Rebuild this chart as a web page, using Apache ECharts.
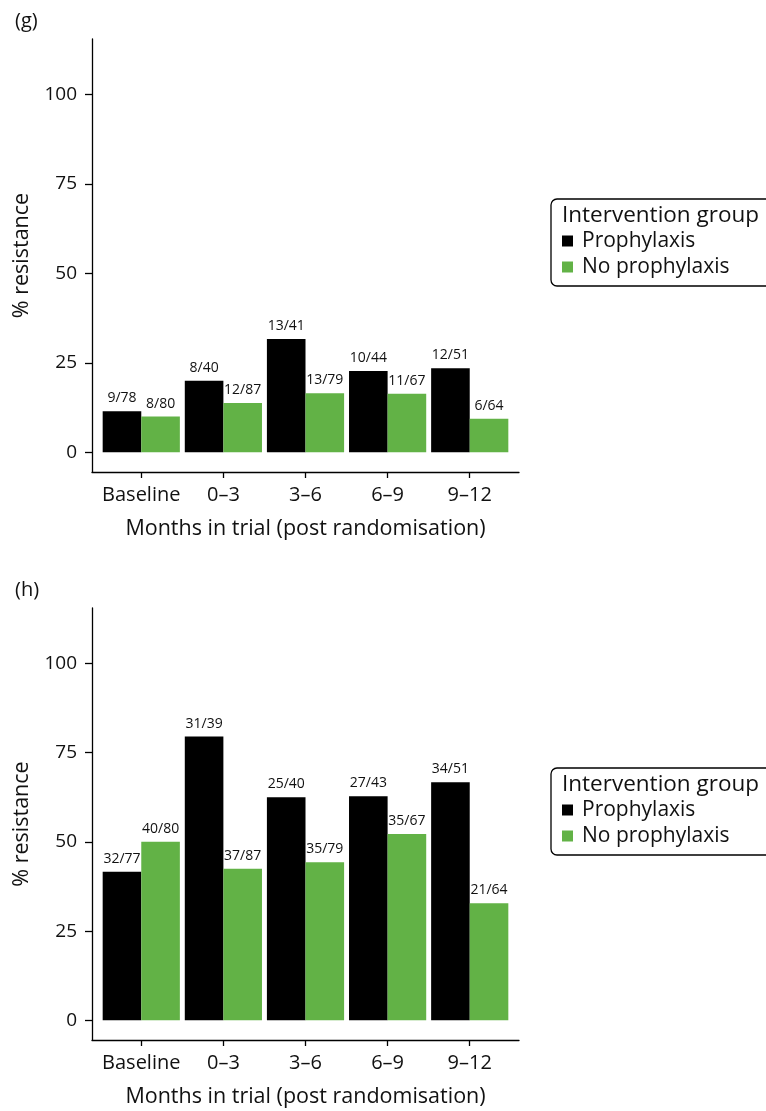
<!DOCTYPE html>
<html><head><meta charset="utf-8">
<script src="https://cdn.jsdelivr.net/npm/echarts@6/dist/echarts.min.js"></script>
<style>html,body{margin:0;padding:0;background:#fff;overflow:hidden}#c{width:766px;height:1111px}</style>
</head><body><div id="c"></div>
<script>
const categories = ['Baseline', '0\u20133', '3\u20136', '6\u20139', '9\u201312'];
const yTicks = [0, 25, 50, 75, 100];
const seriesNames = ['Prophylaxis', 'No prophylaxis'];
// panel (g)
const gProph = [11.5, 20.0, 31.7, 22.7, 23.5];
const gNoProph = [10.0, 13.8, 16.5, 16.4, 9.4];
const gProphLbl = ['9/78', '8/40', '13/41', '10/44', '12/51'];
const gNoProphLbl = ['8/80', '12/87', '13/79', '11/67', '6/64'];
// panel (h)
const hProph = [41.6, 79.5, 62.5, 62.8, 66.7];
const hNoProph = [50.0, 42.5, 44.3, 52.2, 32.8];
const hProphLbl = ['32/77', '31/39', '25/40', '27/43', '34/51'];
const hNoProphLbl = ['40/80', '37/87', '35/79', '35/67', '21/64'];

const FONT = '"Open Sans", sans-serif';
const TXT = '#111';
const BLACK = '#000000';
const GREEN = '#62b246';
const catIdx = categories.map((c, i) => i);

function xAx(gi) {
  return {
    type: 'value', gridIndex: gi, min: -0.6, max: 4.6,
    axisLine: { onZero: false, lineStyle: { color: '#000', width: 1.3 } },
    axisTick: { customValues: catIdx, length: 6, lineStyle: { color: '#000', width: 1.3 } },
    axisLabel: { customValues: catIdx, formatter: v => categories[Math.round(v)], margin: 13,
      fontFamily: FONT, fontSize: 20, color: TXT },
    splitLine: { show: false },
    name: 'Months in trial (post randomisation)', nameLocation: 'middle', nameGap: 46,
    nameTextStyle: { fontFamily: FONT, fontSize: 21.5, color: TXT }
  };
}
function yAx(gi) {
  return {
    type: 'value', gridIndex: gi, min: -5.5, max: 115.5,
    axisLine: { show: true, onZero: false, lineStyle: { color: '#000', width: 1.3 } },
    axisTick: { show: true, customValues: yTicks, length: 7, lineStyle: { color: '#000', width: 1.3 } },
    axisLabel: { customValues: yTicks, margin: 15, fontFamily: FONT, fontSize: 19, color: TXT },
    splitLine: { show: false },
    name: '% resistance', nameLocation: 'middle', nameGap: 59, nameRotate: 90,
    nameTextStyle: { fontFamily: FONT, fontSize: 21.5, color: TXT }
  };
}
function barSeries(gi, name, vals, lbls, color) {
  return {
    type: 'bar', name: name, xAxisIndex: gi, yAxisIndex: gi,
    data: vals.map((v, i) => [i, v]),
    itemStyle: { color: color },
    barGap: '0%', barCategoryGap: '6%',
    label: { show: true, position: 'top', distance: 6, formatter: p => lbls[p.dataIndex],
      fontFamily: FONT, fontSize: 14, color: TXT },
    emphasis: { disabled: true }
  };
}
function legend(top) {
  return {
    data: seriesNames, orient: 'vertical', left: 551, top: top,
    icon: 'rect', itemWidth: 11, itemHeight: 11, itemGap: 4,
    padding: [31, 80, 8, 11], borderColor: '#000', borderWidth: 1.3, borderRadius: 6,
    textStyle: { fontFamily: FONT, fontSize: 21, color: TXT, lineHeight: 22, padding: [0, 0, 0, 4] },
    selectedMode: false
  };
}
const chart = echarts.init(document.getElementById('c'), null, { renderer: 'canvas' });
chart.setOption({
  animation: false,
  backgroundColor: '#fff',
  title: [
    { text: '(g)', left: 10, top: 6, textStyle: { fontFamily: FONT, fontSize: 20, fontWeight: 'normal', color: TXT } },
    { text: '(h)', left: 10, top: 575, textStyle: { fontFamily: FONT, fontSize: 20, fontWeight: 'normal', color: TXT } },
    { text: 'Intervention group', left: 557, top: 199, textStyle: { fontFamily: FONT, fontSize: 22.5, fontWeight: 'normal', color: TXT } },
    { text: 'Intervention group', left: 557, top: 768, textStyle: { fontFamily: FONT, fontSize: 22.5, fontWeight: 'normal', color: TXT } }
  ],
  legend: [legend(199), legend(768)],
  grid: [
    { left: 92, top: 39, width: 427, height: 433 },
    { left: 92, top: 608, width: 427, height: 432 }
  ],
  xAxis: [xAx(0), xAx(1)],
  yAxis: [yAx(0), yAx(1)],
  series: [
    barSeries(0, seriesNames[0], gProph, gProphLbl, BLACK),
    barSeries(0, seriesNames[1], gNoProph, gNoProphLbl, GREEN),
    barSeries(1, seriesNames[0], hProph, hProphLbl, BLACK),
    barSeries(1, seriesNames[1], hNoProph, hNoProphLbl, GREEN)
  ]
});
</script></body></html>
